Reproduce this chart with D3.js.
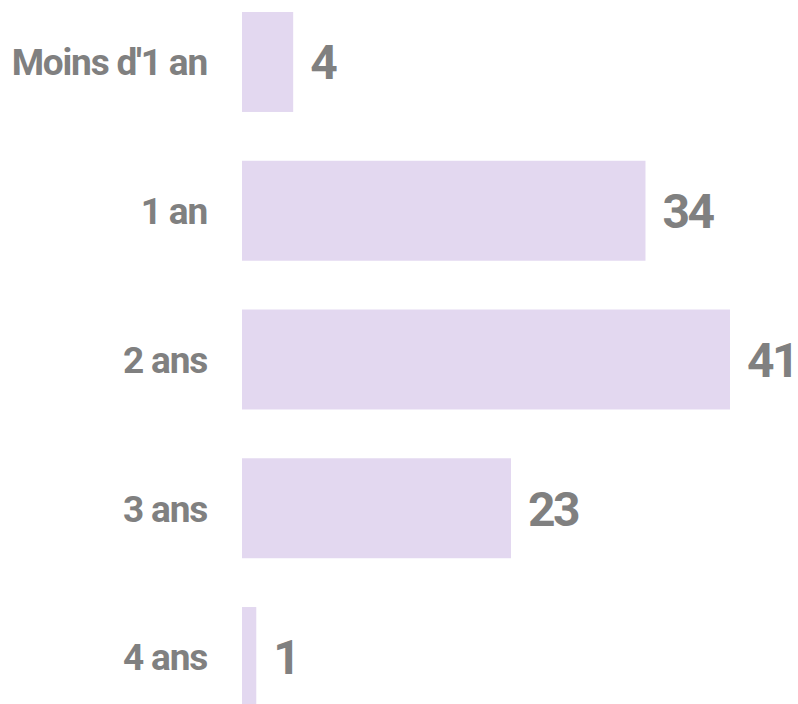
<!DOCTYPE html>
<html>
<head>
<meta charset="utf-8">
<script src="https://cdn.jsdelivr.net/npm/d3@7"></script>
<style>
  body { margin: 0; background: #fff; }
  text { font-family: Roboto, "Noto Sans", sans-serif; font-weight: 700; fill: #808080; }
</style>
</head>
<body>
<div class="chart"></div>
<script>
const categories = ["Moins d'1 an", "1 an", "2 ans", "3 ans", "4 ans"];
const values = [4.3, 33.9, 41.0, 22.6, 1.2];

const width = 798;
const height = 704;

const data = categories.map((c, i) => ({ cat: c, value: values[i] }));

const svg = d3.select('.chart').append('svg')
    .attr('width', width)
    .attr('height', height)
    .style('display', 'block');

const x = d3.scaleLinear()
    .domain([0, 41])
    .range([242, 730]);

const y = d3.scaleBand()
    .domain(categories)
    .range([12, 707])
    .paddingInner(0.328)
    .paddingOuter(0);

svg.selectAll('rect')
    .data(data)
    .enter()
    .append('rect')
    .attr('x', x(0))
    .attr('y', d => y(d.cat))
    .attr('width', d => x(d.value) - x(0))
    .attr('height', y.bandwidth())
    .style('fill', '#e3d8f0');

// category labels
svg.selectAll('.cat')
    .data(data)
    .enter()
    .append('text')
    .attr('class', 'cat')
    .attr('x', 207)
    .attr('y', d => y(d.cat) + y.bandwidth() / 2)
    .attr('dy', '0.36em')
    .attr('text-anchor', 'end')
    .style('font-size', '37px')
    .style('letter-spacing', '-1.2px')
    .text(d => d.cat);

// value labels
svg.selectAll('.val')
    .data(data)
    .enter()
    .append('text')
    .attr('class', 'val')
    .attr('x', d => x(d.value) + 17)
    .attr('y', d => y(d.cat) + y.bandwidth() / 2)
    .attr('dy', '0.36em')
    .style('font-size', '48px')
    .style('letter-spacing', '-2.5px')
    .text(d => d3.format('.0f')(d.value));
</script>
</body>
</html>
